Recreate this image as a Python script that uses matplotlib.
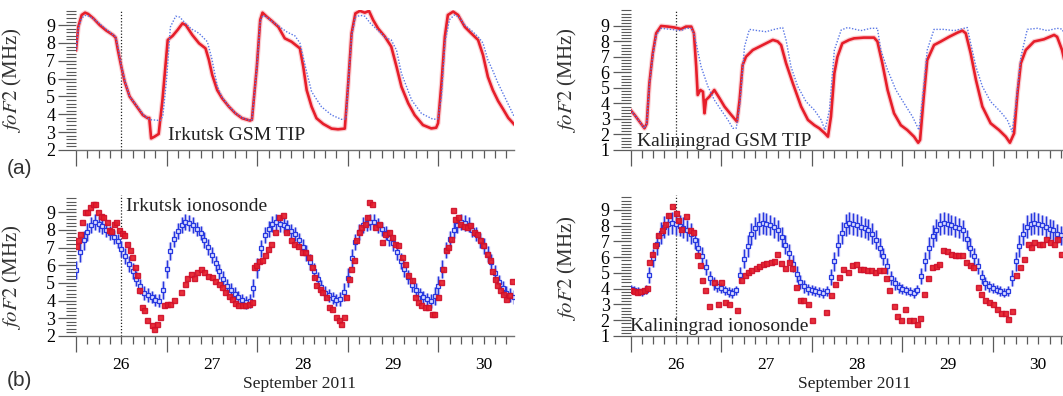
import numpy as np
import matplotlib
matplotlib.use('Agg')
import matplotlib.pyplot as plt
from matplotlib.ticker import MultipleLocator

plt.rcParams['font.family'] = ['Liberation Serif', 'DejaVu Serif']
plt.rcParams['mathtext.fontset'] = 'stix'

# hours are counted from 26 Sep 2011 00 UT

# (a) Irkutsk GSM TIP
irk_tip_h = [0, 0.6, 1.5, 2.4, 3.2, 4.6, 6.3, 8, 9.8, 10.5, 11.1, 12, 12.9, 14.2, 15.9, 17.7, 19, 19.4, 19.9,
             20.8, 21.9, 22.9, 24.3, 25.6, 26.9, 28.2, 29.1, 30.8, 32.6, 34.3, 35.2, 36.1, 37.4, 38.7, 40.5,
             42.2, 44, 46.1, 46.6, 47.9, 48.8, 49.4, 50.5, 51.8, 53.6, 55.3, 57.1, 59.3, 60.2, 61.1, 62.4,
             63.7, 65.5, 67.7, 69.4, 71.2, 72.1, 73, 74, 75.2, 76.5, 77.6, 78.7, 80, 81.8, 83.5, 84.9, 86.2,
             88, 89.7, 91.9, 94.1, 95.4, 95.9, 96.8, 97.7, 98.5, 99.9, 101.2, 103, 104.7, 106.5, 107.8,
             109.1, 110.4, 111.8, 113.1, 114.5, 116]
irk_tip_v = [7.6, 8.9, 9.57, 9.7, 9.63, 9.38, 9.0, 8.7, 8.45, 8.3, 7.6, 6.67, 5.83, 5.0, 4.5, 3.96, 3.78, 3.8, 2.65,
             2.75, 2.9, 4.8, 8.17, 8.4, 8.73, 9.1, 9.0, 8.45, 7.98, 7.7, 7.05, 6.2, 5.36, 4.9, 4.43,
             4.06, 3.78, 3.65, 3.7, 6.67, 9.3, 9.7, 9.48, 9.25, 8.9, 8.26, 8.07, 7.7, 6.67, 5.36, 4.43,
             3.78, 3.46, 3.2, 3.16, 3.2, 5.74, 8.54, 9.66, 9.8, 9.7, 9.8, 9.29, 8.82, 8.36, 7.8, 6.67, 5.55,
             4.62, 3.96, 3.4, 3.21, 3.25, 3.5, 5.74, 8.36, 9.57, 9.76, 9.57, 8.9, 8.54, 8.17, 7.33,
             6.1, 5.36, 4.75, 4.3, 3.8, 3.45]
irk_quiet_h = [0, 0.6, 1.5, 2.5, 3.5, 5, 7, 9, 10.5, 11.2, 12, 13, 14.2, 16, 18, 19.5, 21, 22.3, 23, 24, 25,
               26.4, 27.5, 29, 30.5, 32.6, 34.8, 36, 37.4, 38.7, 40.5, 42.2, 44, 46.1, 46.6, 47.9, 48.8,
               49.5, 50.5, 52, 54, 56, 58, 59.3, 60.5, 62.4, 65, 67.7, 70.3, 71.5, 72.1, 73, 74, 75.3,
               76.5, 78, 80, 82, 83.5, 84.9, 86.2, 88.9, 91.5, 94.6, 95.9, 96.8, 97.7, 98.9, 100.2, 101.5,
               103, 105, 106.5, 107.8, 109.1, 110.5, 111.8, 113.5, 116]
irk_quiet_v = [7.6, 8.8, 9.4, 9.55, 9.5, 9.3, 8.95, 8.6, 8.35, 7.7, 6.7, 5.85, 5.0, 4.5, 3.95, 3.7, 3.68, 3.65,
               3.9, 6.0, 8.9, 9.5, 9.45, 9.1, 8.8, 8.54, 8.07, 7.1, 5.6, 4.95, 4.45, 4.08, 3.8, 3.66, 3.7,
               6.6, 9.2, 9.55, 9.45, 9.2, 8.9, 8.6, 8.4, 8.0, 6.9, 5.27, 4.43, 3.96, 3.72, 3.75, 5.7,
               8.4, 9.45, 9.55, 9.5, 9.1, 8.7, 8.3, 8.17, 7.6, 6.3, 4.8, 4.05, 3.72, 3.75, 5.0, 8.0,
               9.3, 9.57, 9.45, 9.0, 8.65, 8.35, 8.0, 7.05, 6.4, 5.74, 5.0, 3.9]

# (a) Kaliningrad GSM TIP
kal_tip_h = [0, 1.1, 2.4, 3.7, 4.3, 5, 5.9, 6.8, 8.1, 9.9, 11.7, 13.4, 14.7, 16.1, 16.8, 17.4, 17.8, 18.5, 19.2,
             19.6, 20, 20.9, 22.2, 23.6, 24.9, 26.7, 28.2, 28.9, 29.7, 30.6, 32.4, 34.2, 35.9, 37.7, 39,
             39.9, 41.2, 43, 45.2, 47, 48.7, 50, 51.5, 52.3, 53.1, 54, 54.8, 56.1, 57.9, 59.2, 61.8, 64.5,
             65.4, 66.7, 68.1, 69.8, 71.6, 73.3, 75.1, 76.2, 76.7, 77.6, 78.6, 80.4, 82.2, 84.4, 86.6, 87.9,
             88.8, 90.1, 91.5, 93.2, 95.4, 97.6, 99.4, 100.5, 101.6, 102.5, 103.4, 104.7, 106.9, 109.5,
             112.2, 113, 114.3, 115.5]
kal_tip_v = [3.58, 3.26, 2.83, 2.4, 2.7, 5.3, 7.24, 8.53, 9.0, 8.96, 8.9, 8.8, 8.96, 8.96, 8.53, 6.38, 4.55, 4.87,
             4.76, 3.37, 4.23, 4.44, 4.87, 4.33, 3.8, 3.26, 2.83, 4.23, 6.48, 7.02, 7.45, 7.67, 7.88, 8.1,
             8.0, 7.77, 6.6, 5.3, 3.8, 2.94, 2.6, 2.4, 2.07, 1.86, 3.15, 5.95, 7.0, 7.88, 8.1, 8.2, 8.25,
             8.25, 8.0, 6.6, 4.87, 3.37, 2.6, 2.29, 1.86, 1.47, 1.65, 4.23, 6.8, 7.77, 8.0, 8.3, 8.57, 8.7,
             8.53, 7.24, 5.52, 3.8, 2.72, 2.29, 1.86, 1.47, 2.07, 4.66, 6.6, 7.45, 8.0, 8.14, 8.42, 8.3,
             7.45, 6.2]
kal_quiet_h = [0, 1.1, 2.4, 3.7, 4.3, 5, 5.9, 6.8, 8.1, 9.9, 11.7, 13.4, 14.7, 16.1, 16.8, 17.4, 18.7, 20.5,
               22.2, 24, 25.8, 27.1, 28, 28.9, 30.2, 31.5, 33.7, 35.9, 38.1, 40.3, 41.2, 42.5, 44.3, 46.5,
               48.7, 50.5, 51.5, 52.7, 54, 55.8, 57.5, 61, 63.7, 65.4, 66.3, 68.1, 70.3, 72.5, 74.7, 76.4,
               77.3, 78.6, 80.4, 83, 85.7, 89.2, 90.1, 91.5, 93.2, 95.4, 98, 99.8, 101.1, 102, 103.4,
               105.1, 107.8, 110.4, 113, 114.3, 115.5]
kal_quiet_v = [3.58, 3.26, 2.83, 2.4, 2.7, 5.2, 7.1, 8.4, 8.85, 8.8, 8.75, 8.7, 8.85, 8.85, 8.5, 7.88, 6.38, 5.1,
               4.23, 3.58, 2.94, 2.4, 2.4, 3.8, 7.67, 8.78, 8.7, 8.63, 8.78, 8.9, 8.1, 6.38, 5.1, 4.12,
               3.58, 2.94, 2.29, 3.58, 7.45, 8.74, 8.9, 8.7, 8.85, 8.85, 7.45, 6.16, 4.87, 4.0, 3.15, 2.29,
               4.2, 7.45, 8.78, 8.78, 8.7, 8.9, 7.88, 6.38, 5.1, 4.12, 3.47, 2.94, 2.18, 3.8, 7.0,
               8.78, 8.85, 8.7, 8.85, 8.8, 8.2]

# (b) Irkutsk ionosonde
irk_obs_h = [0, 0.5, 1, 1.7, 2.4, 3, 3.7, 4.4, 5, 5.7, 6.5, 7.2, 8.1, 8.7, 9.3, 10, 10.7, 11.5, 12.2, 12.8,
             13.5, 14.2, 14.9, 15.5, 16.1, 16.8, 17.5, 18.1, 18.9, 20, 20.7, 21.4, 22.3, 23.3, 24, 24.9,
             25.9, 27.9, 28.8, 29.5, 30.4, 31.2, 32.1, 33.2, 34, 34.9, 36, 36.9, 37.8, 38.7, 39.5, 40.4,
             41.3, 42.1, 43, 43.9, 44.8, 45.8, 46.5, 47.1, 47.7, 48.4, 49.3, 50, 50.9, 51.7, 52.6, 53.7,
             54.7, 55.7, 56.9, 57.8, 58.8, 59.8, 60.7, 61.6, 62.5, 63.1, 63.7, 64.6, 65.2, 66.1, 67, 67.9,
             68.8, 69.6, 70.3, 70.9, 71.6, 72.2, 72.9, 73.6, 74.2, 74.9, 75.6, 76.5, 77.1, 77.7, 78.4,
             79.3, 80.2, 81.1, 81.9, 82.8, 83.7, 84.5, 85.4, 86.3, 87.2, 88, 88.9, 89.8, 90.7, 91.5, 92.4,
             93.3, 94.2, 94.9, 95.8, 96.6, 97.3, 97.9, 98.5, 99.2, 99.8, 100.4, 101.1, 101.8, 102.7,
             103.5, 104.4, 105.3, 106.2, 107.1, 107.9, 108.8, 109.7, 110.3, 110.9, 111.6, 112.3, 113.2,
             114, 114.8, 115.5]
irk_obs_v = [7.07, 7.4, 7.78, 8.44, 9.0, 9.0, 9.3, 9.44, 9.44, 9.0, 8.8, 8.72, 8.44, 8.0, 7.93, 8.35, 8.44, 8.0,
             7.82, 7.69, 7.2, 6.84, 6.46, 5.9, 5.43, 4.58, 3.64, 3.45, 2.88, 2.6, 2.41, 2.7, 3.07, 3.73,
             3.79, 3.83, 4.05, 4.48, 4.96, 5.3, 5.52, 5.3, 5.62, 5.8, 5.62, 5.37, 5.33, 5.1, 4.92, 4.77,
             4.48, 4.24, 4.1, 3.86, 3.73, 3.73, 3.73, 3.79, 3.92, 5.9, 6.0, 6.24, 6.3, 6.56, 6.93, 7.2,
             7.88, 8.72, 8.82, 7.88, 7.4, 7.2, 7.07, 6.75, 6.75, 6.46, 5.9, 5.33, 4.86, 4.67, 4.48, 4.2,
             3.64, 3.54, 3.07, 2.88, 2.7, 3.07, 4.2, 5.24, 5.8, 6.27, 7.4, 7.88, 8.16, 8.35, 8.72, 9.57,
             9.44, 8.16, 8.35, 7.3, 7.78, 7.88, 7.6, 7.2, 7.12, 6.46, 6.09, 5.43, 5.18, 4.2, 3.92, 3.73,
             3.64, 3.64, 3.22, 3.22, 4.2, 5.05, 5.8, 6.84, 7.03, 7.5, 9.14, 8.63, 8.72, 8.35, 8.2, 8.16,
             8.25, 7.88, 7.78, 7.4, 7.12, 6.65, 6.27, 5.7, 5.24, 4.86, 4.58, 4.39, 4.1, 4.3, 5.1]
irk_med = [5.75, 6.75, 7.4, 7.88, 8.3, 8.44, 8.35, 8.2, 8.0, 7.8, 7.6, 7.35, 6.9, 6.5, 6.05, 5.65, 5.25, 4.8,
           4.45, 4.3, 4.2, 4.05, 4.0, 4.6, 5.8, 6.8, 7.5, 7.95, 8.3, 8.44, 8.4, 8.25, 8.05, 7.8, 7.45, 7.05,
           6.6, 6.1, 5.65, 5.25, 4.85, 4.6, 4.4, 4.2, 4.05, 3.9, 4.0, 4.7, 5.85, 6.95, 7.7, 8.05, 8.35,
           8.44, 8.35, 8.25, 8.15, 7.95, 7.75, 7.4, 7.05, 6.7, 6.2, 5.7, 5.2, 4.75, 4.45, 4.3, 4.15, 4.05,
           4.1, 4.5, 5.3, 6.4, 7.3, 7.9, 8.25, 8.4, 8.44, 8.42, 8.25, 8.05, 7.8, 7.55, 7.25, 6.75, 6.25,
           5.8, 5.35, 4.9, 4.6, 4.35, 4.2, 4.1, 4.0, 4.25, 4.85, 5.8, 6.85, 7.5, 7.97, 8.25, 8.44, 8.4,
           8.3, 8.0, 7.75, 7.4, 7.1, 6.65, 6.2, 5.55, 5.05, 4.7, 4.45, 4.3, 4.2]
irk_err = [0.5, 0.55, 0.55, 0.5, 0.45, 0.45, 0.45, 0.45, 0.4, 0.4, 0.4, 0.4, 0.45, 0.45, 0.45, 0.45, 0.4, 0.4,
           0.4, 0.4, 0.35, 0.35, 0.35, 0.5, 0.5, 0.5, 0.45, 0.45, 0.45, 0.45, 0.45, 0.45, 0.4, 0.4, 0.45,
           0.45, 0.45, 0.45, 0.4, 0.4, 0.4, 0.4, 0.35, 0.35, 0.35, 0.35, 0.4, 0.5, 0.55, 0.5, 0.45, 0.45,
           0.45, 0.45, 0.45, 0.4, 0.4, 0.4, 0.4, 0.45, 0.45, 0.45, 0.45, 0.45, 0.4, 0.4, 0.4, 0.35, 0.35,
           0.35, 0.4, 0.5, 0.55, 0.5, 0.45, 0.45, 0.45, 0.45, 0.45, 0.45, 0.4, 0.4, 0.4, 0.45, 0.45, 0.45,
           0.45, 0.45, 0.4, 0.4, 0.4, 0.35, 0.35, 0.35, 0.4, 0.5, 0.55, 0.5, 0.45, 0.45, 0.45, 0.45, 0.45,
           0.45, 0.4, 0.4, 0.4, 0.45, 0.45, 0.45, 0.45, 0.45, 0.4, 0.4, 0.4, 0.4, 0.4]

# (b) Kaliningrad ionosonde
kal_obs_h = [0, 0.9, 1.7, 2.6, 3.5, 4.3, 4.8, 5.7, 6.5, 7.4, 8.3, 9.2, 10, 10.9, 12, 12.7, 13.5, 14.8, 15.7,
             16.6, 17.5, 18.3, 18.9, 19.8, 20.9, 22.1, 23.1, 24, 25.1, 26.2, 28.1, 29.2, 30.3, 31.2, 32,
             33.2, 34, 35.1, 36, 37.1, 38, 38.8, 39.9, 40.8, 41.9, 42.9, 43.9, 44.8, 45.8, 46.9, 48, 51.9,
             53, 54.2, 55.3, 56.4, 57.5, 58.6, 59.7, 60.7, 61.7, 62.7, 63.7, 64.7, 65.7, 66.8, 67.7, 68.6,
             69.7, 70.7, 71.7, 72.7, 73.8, 74.8, 75.8, 76.7, 77.7, 78.7, 79.8, 80.8, 81.8, 82.9, 83.9,
             84.9, 86, 86.8, 87.9, 88.9, 90, 90.8, 92, 92.9, 94, 95, 96, 97, 98.1, 99.1, 100.1, 101.1,
             102.2, 103.2, 104.2, 105.2, 106.1, 107, 108.1, 109.1, 110.1, 111.1, 112.1, 113.1, 114.1]
kal_obs_v = [3.95, 3.85, 3.8, 3.85, 3.9, 4.05, 5.7, 6.2, 6.76, 7.4, 7.75, 8.1, 8.7, 9.23, 8.8, 8.34, 7.8, 8.6,
             7.7, 7.6, 6.12, 5.49, 4.53, 3.9, 2.88, 4.43, 3.05, 4.43, 3.16, 3.05, 2.67, 4.53, 4.85, 5.06,
             5.17, 5.34, 5.42, 5.55, 5.63, 5.7, 5.76, 6.23, 5.63, 5.34, 5.7, 5.34, 4.1, 3.3, 3.26, 3.05,
             2.0, 2.52, 3.58, 4.32, 4.75, 5.27, 5.06, 5.49, 5.6, 5.27, 5.23, 5.17, 5.2, 5.06, 5.17, 5.17,
             4.7, 3.9, 2.9, 2.25, 2.04, 2.69, 2.04, 2.04, 1.78, 2.14, 3.65, 4.7, 5.38, 5.42, 5.55, 6.44,
             6.38, 6.23, 6.12, 6.12, 6.12, 5.7, 5.49, 5.38, 4.11, 3.65, 3.26, 3.16, 3.05, 2.73, 2.46,
             2.46, 2.1, 2.59, 4.85, 5.38, 5.9, 6.86, 6.65, 6.97, 6.86, 6.86, 7.18, 6.97, 6.86, 7.18, 6.23]
kal_med = [4.0, 3.9, 3.86, 3.8, 3.95, 4.85, 5.95, 6.85, 7.55, 7.9, 8.13, 8.17, 8.1, 8.0, 7.88, 7.7, 7.5, 7.1,
           6.6, 6.1, 5.4, 4.7, 4.35, 4.15, 4.05, 3.9, 3.8, 3.73, 3.9, 4.85, 5.9, 6.7, 7.45, 7.85, 8.13,
           8.17, 8.1, 8.03, 7.9, 7.7, 7.3, 6.8, 6.25, 5.6, 4.95, 4.45, 4.15, 3.98, 3.92, 3.85, 3.78, 3.72,
           3.85, 4.75, 5.75, 6.75, 7.55, 8.05, 8.15, 8.13, 8.05, 7.95, 7.85, 7.75, 7.5, 7.1, 6.6, 6.05,
           5.45, 4.7, 4.35, 4.1, 3.98, 3.9, 3.82, 3.72, 3.95, 4.8, 5.75, 6.6, 7.35, 7.75, 8.1, 8.15, 8.13,
           8.05, 7.95, 7.85, 7.7, 7.15, 6.6, 6.05, 5.45, 4.75, 4.35, 4.15, 4.05, 3.95, 3.85, 3.75, 3.85,
           4.7, 5.75, 6.7, 7.5, 7.95, 8.1, 8.15, 8.13, 8.05, 7.95, 7.8, 7.7, 7.5, 7.4, 7.0]
kal_err = [0.25, 0.25, 0.25, 0.25, 0.3, 0.5, 0.6, 0.7, 0.7, 0.7, 0.7, 0.7, 0.7, 0.65, 0.65, 0.65, 0.65, 0.6,
           0.6, 0.55, 0.5, 0.45, 0.4, 0.35, 0.3, 0.3, 0.3, 0.3, 0.3, 0.5, 0.6, 0.7, 0.7, 0.7, 0.7, 0.7,
           0.7, 0.65, 0.65, 0.65, 0.65, 0.6, 0.6, 0.55, 0.5, 0.45, 0.4, 0.35, 0.3, 0.3, 0.3, 0.3, 0.3, 0.5,
           0.6, 0.7, 0.7, 0.7, 0.7, 0.7, 0.7, 0.65, 0.65, 0.65, 0.65, 0.6, 0.6, 0.55, 0.5, 0.45, 0.4, 0.35,
           0.3, 0.3, 0.3, 0.3, 0.3, 0.5, 0.6, 0.7, 0.7, 0.7, 0.7, 0.7, 0.7, 0.65, 0.65, 0.65, 0.65, 0.6,
           0.6, 0.55, 0.5, 0.45, 0.4, 0.35, 0.3, 0.3, 0.3, 0.3, 0.3, 0.5, 0.6, 0.7, 0.7, 0.7, 0.7, 0.7, 0.7,
           0.65, 0.65, 0.65, 0.65, 0.6, 0.6, 0.55]

day_labels = ['26', '27', '28', '29', '30']
storm_onset = 26.5

RED = '#e61e2a'
BLUE_DOT = '#5a78e6'
BLUE = '#2638e0'
LILAC = '#b4b4f2'
TICK = '#5a5a5a'


def day(h):
    return 26 + np.asarray(h, dtype=float) / 24.0


fig = plt.figure(figsize=(10.63, 3.96), dpi=100)
W = 438 / 1063
ax_tl = fig.add_axes([76 / 1063, 246 / 396, W, 140 / 396])
ax_tr = fig.add_axes([630.5 / 1063, 246 / 396, W, 140 / 396])
ax_bl = fig.add_axes([76 / 1063, 60 / 396, W, 141 / 396])
ax_br = fig.add_axes([630.5 / 1063, 60 / 396, W, 141 / 396])


def style(ax, ylo, yhi, labelled, ylab_y):
    ax.set_xlim(26, 30.834)
    ax.set_ylim(ylo, yhi)
    for s in ('top', 'right', 'left'):
        ax.spines[s].set_visible(False)
    ax.spines['bottom'].set_color('#707070')
    ax.spines['bottom'].set_linewidth(1.0)
    ax.set_yticks(np.arange(int(ylo), 10))
    ax.yaxis.set_minor_locator(MultipleLocator(0.2))
    ax.set_xticks(np.arange(26, 31), labels=[''] * 5)
    mpos = [26 + k / 8 for k in range(39) if k % 8 != 0]
    mlab = [day_labels[k // 8] if (k % 8 == 4 and labelled) else '' for k in range(39) if k % 8 != 0]
    ax.set_xticks(mpos, labels=mlab, minor=True)
    ax.tick_params(axis='y', which='major', length=13, width=0.9, color=TICK, pad=2, labelsize=13)
    ax.tick_params(axis='y', which='minor', length=7, width=0.8, color=TICK)
    ax.tick_params(axis='x', which='major', length=11.5, width=0.9, color=TICK)
    ax.tick_params(axis='x', which='minor', length=6, width=0.9, color=TICK, pad=9, labelsize=12.5)
    ax.set_ylabel(r'$foF2$ (MHz)', fontsize=15, color='#333333')
    ax.yaxis.set_label_coords(-0.118, ylab_y)
    ax.axvline(storm_onset, color='#222222', ls=(0, (1, 1.5)), lw=0.9, zorder=1)


def model(ax, th, tv, qh, qv):
    ax.plot(day(th), tv, color='#f7a0a8', lw=3.6, alpha=0.5, zorder=2, solid_capstyle='round')
    ax.plot(day(th), tv, color=RED, lw=1.9, zorder=3)
    ax.plot(day(qh), qv, color=BLUE_DOT, lw=1.0, ls=(0, (1, 1.2)), zorder=4)


def obs(ax, oh, ov, med, err):
    hm = day(np.arange(len(med)))
    ax.errorbar(hm, med, yerr=err, fmt='none', ecolor=LILAC, elinewidth=2.4, alpha=0.8, zorder=2)
    ax.errorbar(hm, med, yerr=err, fmt='s', ms=3.2, mfc='#dde0ff', mec=BLUE, mew=0.9,
                ecolor=BLUE, elinewidth=0.9, zorder=3)
    ax.plot(day(oh), ov, 's', ms=3.6, color=RED, mec='#d0102a', alpha=0.92, zorder=4)


style(ax_tl, 2, 9.85, False, 0.5)
style(ax_tr, 1, 10.03, False, 0.5)
style(ax_bl, 2, 9.97, True, 0.42)
style(ax_br, 1, 9.95, True, 0.48)

model(ax_tl, irk_tip_h, irk_tip_v, irk_quiet_h, irk_quiet_v)
model(ax_tr, kal_tip_h, kal_tip_v, kal_quiet_h, kal_quiet_v)
obs(ax_bl, irk_obs_h, irk_obs_v, irk_med, irk_err)
obs(ax_br, kal_obs_h, kal_obs_v, kal_med, kal_err)

ax_tl.text(27.01, 2.84, 'Irkutsk GSM TIP', fontsize=14, va='center', ha='left', color='#222222')
ax_tr.text(26.07, 1.55, 'Kaliningrad GSM TIP', fontsize=14, va='center', ha='left', color='#222222')
ax_bl.text(26.55, 9.3, 'Irkutsk ionosonde', fontsize=14, va='center', ha='left', color='#222222')
ax_br.text(26.0, 1.6, 'Kaliningrad ionosonde', fontsize=14, va='center', ha='left', color='#222222')

for ax in (ax_bl, ax_br):
    ax.text(28.47, -0.34, 'September 2011', transform=ax.get_xaxis_transform(),
            fontsize=12.5, ha='center', va='center', color='#222222')

fig.text(0.006, 1 - 168 / 396, '(a)', fontsize=15, family='Liberation Sans', va='center', color='#333333')
fig.text(0.006, 1 - 380 / 396, '(b)', fontsize=15, family='Liberation Sans', va='center', color='#333333')

fig.savefig('out.png', dpi=100)
